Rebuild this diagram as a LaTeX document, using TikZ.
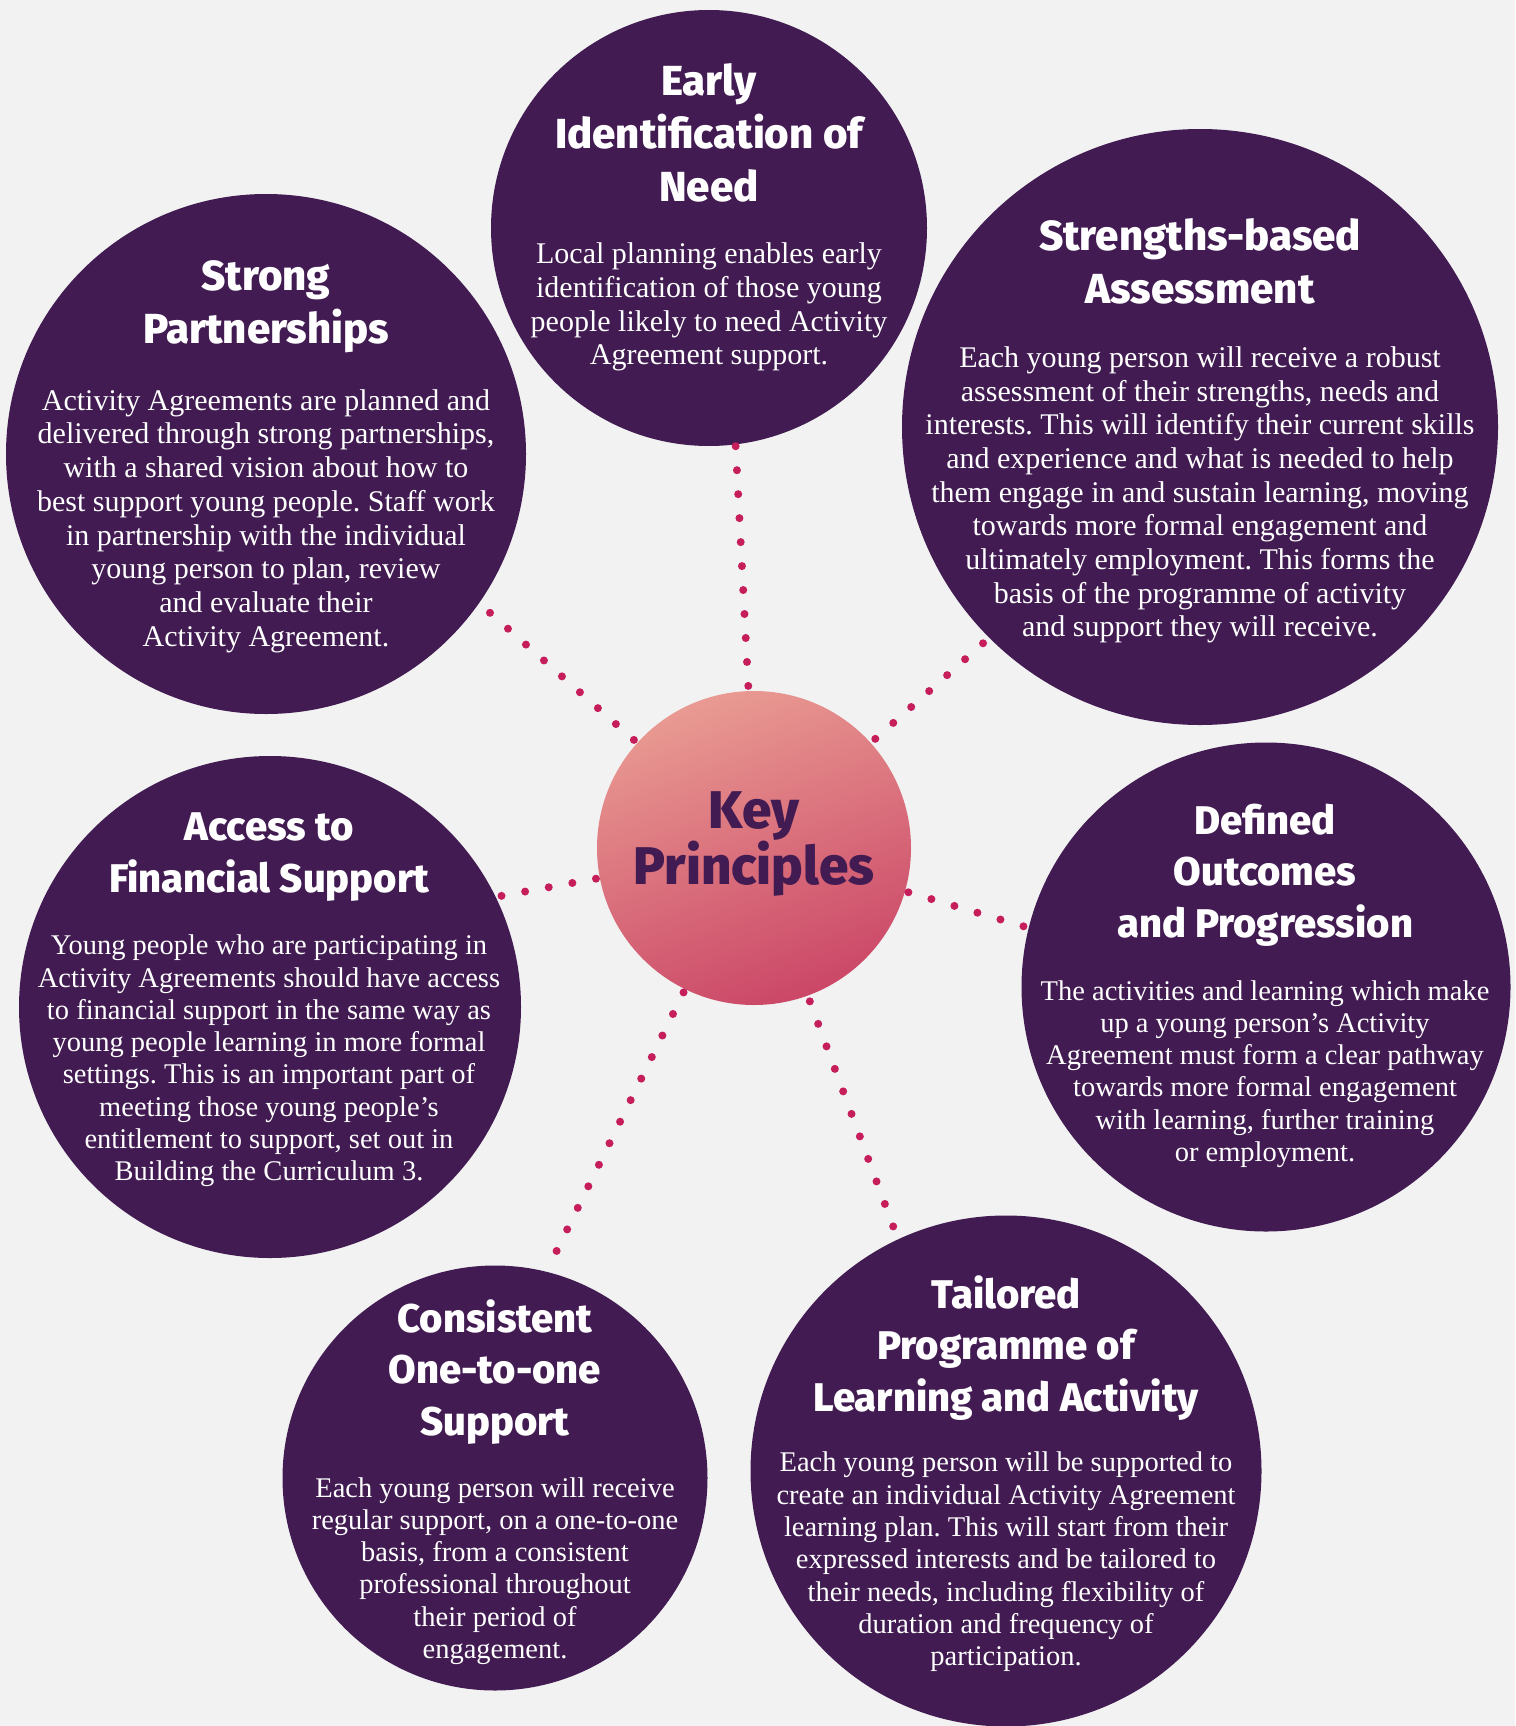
\documentclass[tikz,border=0pt]{standalone}
\usepackage{fontspec}
\setmainfont{Liberation Serif}
\IfFontExistsTF{Fira Sans ExtraBold}
  {\newfontfamily\headfont{Fira Sans ExtraBold}}
  {\newfontfamily\headfont{Fira Sans}[UprightFont={* Bold}]}
\usepackage{tikz}
\frenchspacing

\definecolor{plum}{HTML}{411B51}
\definecolor{paper}{HTML}{F2F2F2}
\definecolor{dotred}{HTML}{C61E5B}
\definecolor{keytop}{HTML}{E99A92}
\definecolor{keybottom}{HTML}{CB4767}

\begin{document}
\begin{tikzpicture}
  [
    x=1pt, y=-1pt,
    disc/.style={circle, fill=plum, inner sep=0pt},
    head text/.style={text=white, align=center, font=\headfont\fontsize{42}{53}\selectfont},
    small head/.style={head text, font=\headfont\fontsize{40}{51.5}\selectfont},
    body text/.style={text=white, align=center, font=\fontsize{30}{33.7}\selectfont},
    small text/.style={body text, font=\fontsize{28.5}{32.3}\selectfont},
    dot line/.style={dotred, line width=8pt, line cap=round, dash pattern=on 0pt off 24pt}
    ]

  \useasboundingbox (0,0) rectangle (1515,1726);
  \fill[paper] (0,0) rectangle (1515,1726);

  \node[circle, inner sep=0pt, minimum size=314pt, top color=keytop, bottom color=keybottom, shading angle=20] (key) at (754,848) {};
  \node[disc, minimum size=436pt] (early) at (709,228) {};
  \node[disc, minimum size=596pt] (strengths) at (1200,427) {};
  \node[disc, minimum size=520pt] (strong) at (266,454) {};
  \node[disc, minimum size=502pt] (access) at (270,1007) {};
  \node[disc, minimum size=489pt] (defined) at (1266,987) {};
  \node[disc, minimum size=425pt] (consistent) at (495,1478) {};
  \node[disc, minimum size=511pt] (tailored) at (1006,1471) {};

  \draw[dot line, shorten <=5pt, shorten >=1pt] (key.92) -- (early.277);
  \draw[dot line, shorten <=6pt, shorten >=7.5pt] (key.42) -- (strengths.225);
  \draw[dot line, shorten <=4.4pt, shorten >=14pt] (key.138) -- (strong.325);
  \draw[dot line, shorten <=3.8pt, shorten >=5pt] (key.191) -- (access.26);
  \draw[dot line, shorten <=3.4pt, shorten >=5pt] (key.344) -- (defined.166);
  \draw[dot line, shorten <=6pt, shorten >=13pt] (key.290) -- (tailored.115);
  \draw[dot line, shorten <=3.5pt, shorten >=22pt] (key.244) -- (consistent.76);

  \node[align=center, text=plum, font=\headfont\fontsize{53}{56}\selectfont] (key title) at (754,844) {Key\\Principles};

  \node[head text] (early title) at (709,133) {Early\\Identification of\\Need};
  \node[body text] (early body) at (709,307) {Local planning enables early\\identification of those young\\people likely to need Activity\\Agreement support.};

  \node[head text] (strong title) at (266,307) {Strong\\Partnerships};
  \node[body text] (strong body) at (266,521) {Activity Agreements are planned and\\delivered through strong partnerships,\\with a shared vision about how to\\best support young people. Staff work\\in partnership with the individual\\young person to plan, review\\and evaluate their\\Activity Agreement.};

  \node[head text] (strengths title) at (1200,261) {Strengths-based\\Assessment};
  \node[body text] (strengths body) at (1200,495) {Each young person will receive a robust\\assessment of their strengths, needs and\\interests. This will identify their current skills\\and experience and what is needed to help\\them engage in and sustain learning, moving\\towards more formal engagement and\\ultimately employment. This forms the\\basis of the programme of activity\\and support they will receive.};

  \node[small head] (access title) at (269,857) {Access to\\Financial Support};
  \node[small text] (access body) at (269,1061) {Young people who are participating in\\Activity Agreements should have access\\to financial support in the same way as\\young people learning in more formal\\settings. This is an important part of\\meeting those young people’s\\entitlement to support, set out in\\Building the Curriculum 3.};

  \node[small head] (defined title) at (1265,875) {Defined\\Outcomes\\and Progression};
  \node[small text] (defined body) at (1265,1074) {The activities and learning which make\\up a young person’s Activity\\Agreement must form a clear pathway\\towards more formal engagement\\with learning, further training\\or employment.};

  \node[small head] (consistent title) at (495,1372) {Consistent\\One-to-one\\Support};
  \node[small text] (consistent body) at (495,1571) {Each young person will receive\\regular support, on a one-to-one\\basis, from a consistent\\professional throughout\\their period of\\engagement.};

  \node[small head] (tailored title) at (1006,1348) {Tailored\\Programme of\\Learning and Activity};
  \node[small text] (tailored body) at (1006,1562) {Each young person will be supported to\\create an individual Activity Agreement\\learning plan. This will start from their\\expressed interests and be tailored to\\their needs, including flexibility of\\duration and frequency of\\participation.};
\end{tikzpicture}
\end{document}
